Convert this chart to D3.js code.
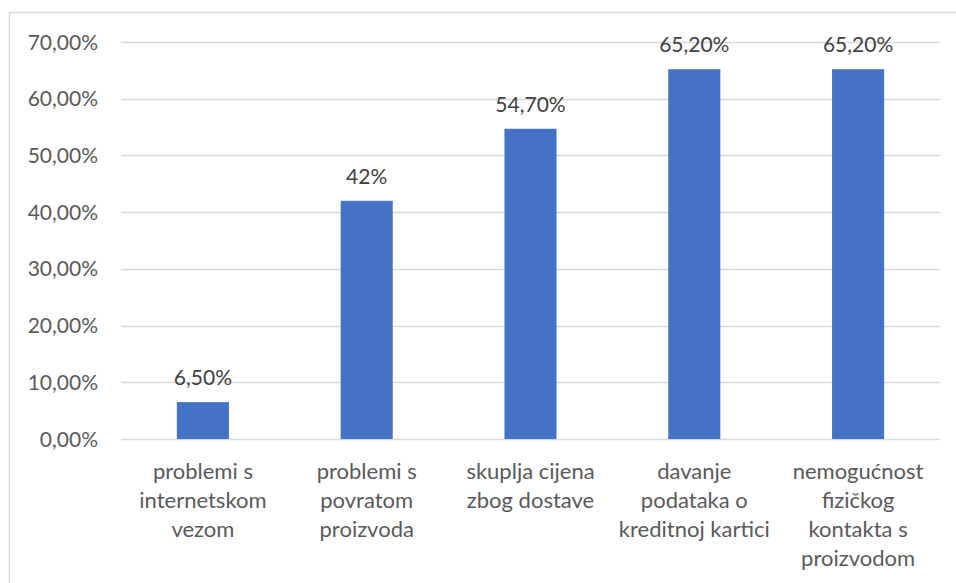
<!DOCTYPE html>
<html><head><meta charset="utf-8">
<script src="https://cdn.jsdelivr.net/npm/d3@7"></script>
<style>body{margin:0;background:#fff}svg{display:block}text{font-family:Lato,"Open Sans",sans-serif}</style>
</head><body><svg id="c" width="956" height="583"></svg>
<script>
const categories = ["problemi s internetskom vezom","problemi s povratom proizvoda","skuplja cijena zbog dostave","davanje podataka o kreditnoj kartici","nemogućnost fizičkog kontakta s proizvodom"];
const categoryLines = [["problemi s","internetskom","vezom"],["problemi s","povratom","proizvoda"],["skuplja cijena","zbog dostave"],["davanje","podataka o","kreditnoj kartici"],["nemogućnost","fizičkog","kontakta s","proizvodom"]];
const values = [6.5, 42, 54.7, 65.2, 65.2];
const valueLabels = ["6,50%","42%","54,70%","65,20%","65,20%"];
const yTicks = [0,10,20,30,40,50,60,70];
const yTickLabels = ["0,00%","10,00%","20,00%","30,00%","40,00%","50,00%","60,00%","70,00%"];

(function(){
const svg = d3.select("#c");
svg.append("rect").attr("x",9.5).attr("y",12.5).attr("width",960).attr("height",600).attr("fill","#fff").attr("stroke","#d9d9d9").attr("stroke-width",1.5);
const pL=121, pR=940, pT=42, pB=439;
const x = d3.scaleBand().domain(categories).range([pL,pR]).paddingInner(0.682).paddingOuter(0.341);
const y = d3.scaleLinear().domain([0,70]).range([pB,pT]);

const g = svg.append("g");
g.selectAll("line.grid").data(yTicks).join("line").attr("class","grid")
 .attr("x1",pL).attr("x2",pR).attr("y1",d=>Math.round(y(d))+0.5).attr("y2",d=>Math.round(y(d))+0.5)
 .attr("stroke","#d9d9d9").attr("stroke-width",1.5);
g.selectAll("text.yt").data(yTicks).join("text").attr("class","yt")
 .attr("x",98).attr("y",d=>y(d)).attr("dy","0.36em").attr("text-anchor","end")
 .attr("fill","#595959").attr("font-size",21).text((d,i)=>yTickLabels[i]);

g.selectAll("rect.bar").data(values).join("rect").attr("class","bar")
 .attr("x",(d,i)=>x(categories[i])).attr("width",x.bandwidth())
 .attr("y",d=>y(d)).attr("height",d=>pB-y(d)).attr("fill","#4472c4");

g.selectAll("text.vl").data(values).join("text").attr("class","vl")
 .attr("x",(d,i)=>x(categories[i])+x.bandwidth()/2).attr("y",d=>y(d)-17)
 .attr("text-anchor","middle").attr("fill","#404040").attr("font-size",21).text((d,i)=>valueLabels[i]);

const cl = g.selectAll("text.cl").data(categoryLines).join("text").attr("class","cl")
 .attr("text-anchor","middle").attr("fill","#595959").attr("font-size",22)
 .attr("transform",(d,i)=>`translate(${x(categories[i])+x.bandwidth()/2},479)`);
cl.selectAll("tspan").data(d=>d).join("tspan").attr("x",0).attr("y",(d,j)=>j*29).text(d=>d);
})();
</script></body></html>
